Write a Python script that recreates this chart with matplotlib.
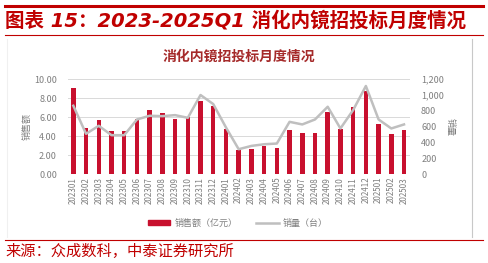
import matplotlib
matplotlib.use('Agg')
import matplotlib.pyplot as plt
from matplotlib.lines import Line2D
from matplotlib.patches import Patch

plt.rcParams['font.family'] = ['Noto Sans CJK SC', 'DejaVu Sans']
plt.rcParams['axes.unicode_minus'] = False

# data
months = ['202301', '202302', '202303', '202304', '202305', '202306', '202307',
          '202308', '202309', '202310', '202311', '202312', '202401', '202402',
          '202403', '202404', '202405', '202406', '202407', '202408', '202409',
          '202410', '202411', '202412', '202501', '202502', '202503']
sales = [9.05, 4.91, 5.69, 4.49, 4.56, 5.83, 6.78, 6.43, 5.76, 5.97, 7.74, 7.17,
         4.73, 2.51, 2.69, 2.97, 2.72, 4.66, 4.38, 4.31, 6.52, 4.73, 7.10, 8.80,
         5.27, 4.24, 4.66]
units = [865, 509, 611, 492, 492, 691, 738, 733, 746, 712, 1001, 886,
         590, 314, 356, 377, 386, 661, 628, 691, 852, 577, 810, 1115,
         691, 577, 628]
left_ticks = [0, 2, 4, 6, 8, 10]
right_ticks = [0, 200, 400, 600, 800, 1000, 1200]

red = '#C00000'
bar_red = '#C8102E'
line_gray = '#BFBFBF'
txt_gray = '#7F7F7F'

fig = plt.figure(figsize=(4.88, 2.63), dpi=100)

# header / footer decoration
fig.add_artist(Line2D([5/488, 483/488], [1-6/263, 1-6/263], color=red, lw=2.2))
fig.add_artist(Line2D([5/488, 483/488], [1-35/263, 1-35/263], color=red, lw=0.8))
fig.add_artist(Line2D([5/488, 483/488], [1-240/263, 1-240/263], color=red, lw=0.8))
fig.add_artist(Line2D([472/488, 472/488], [1-39/263, 1-237/263], color='#C8C8C8', lw=0.8))
fig.add_artist(Line2D([7/488, 7/488], [1-39/263, 1-237/263], color='#F0F0F0', lw=0.8))

fig.text(5/488, 1-21/263, '图表 15：2023-2025Q1 消化内镜招投标月度情况', color=red,
         fontsize=14, fontweight='bold', style='italic', va='center', ha='left',
         family=['DejaVu Sans', 'Noto Sans CJK SC'])
fig.text(5/488, 1-251/263, '来源：众成数科，中泰证券研究所', color=red,
         fontsize=11, va='center', ha='left')
fig.text(239/488, 1-57/263, '消化内镜招投标月度情况', color='#A52A2A',
         fontsize=10, fontweight='bold', va='center', ha='center')

ax = fig.add_axes([68/488, 1-174/263, 342/488, 94.7/263])
x = range(len(months))
ax.bar(x, sales, width=0.35, color=bar_red, zorder=3)
ax.set_ylim(0, 10)
ax.set_yticks(left_ticks)
ax.set_yticklabels([f'{v:.2f}' for v in left_ticks])
ax.set_xlim(-0.42, len(months) - 0.53)
ax.set_xticks(list(x))
ax.set_xticklabels(months, rotation=90, fontsize=5.8, color=txt_gray)
ax.tick_params(axis='y', labelsize=6.5, labelcolor=txt_gray, length=0, pad=8)
ax.tick_params(axis='x', length=0, pad=2)
ax.grid(axis='y', color='#D9D9D9', lw=0.7, zorder=0)
for s in ax.spines.values():
    s.set_visible(False)
ax.set_ylabel('销售额', fontsize=6.5, color=txt_gray, labelpad=2)

ax2 = ax.twinx()
ax2.plot(x, units, color=line_gray, lw=1.8, zorder=4)
ax2.set_ylim(0, 1200)
ax2.set_yticks(right_ticks)
ax2.set_yticklabels([f'{v:,}' for v in right_ticks])
ax2.tick_params(axis='y', labelsize=6.5, labelcolor=txt_gray, length=0, pad=8)
for s in ax2.spines.values():
    s.set_visible(False)
ax2.set_ylabel('销量', fontsize=6.5, color=txt_gray, rotation=270, labelpad=8)

handles = [Patch(color=bar_red), Line2D([], [], color=line_gray, lw=1.8)]
fig.legend(handles, ['销售额（亿元）', '销量（台）'], loc='center',
           bbox_to_anchor=(238/488, 1-223/263), ncol=2, frameon=False,
           fontsize=6.5, labelcolor=txt_gray, handlelength=2.5, handleheight=0.5,
           columnspacing=2.0, handletextpad=0.5)

fig.savefig('out.png', dpi=100)
